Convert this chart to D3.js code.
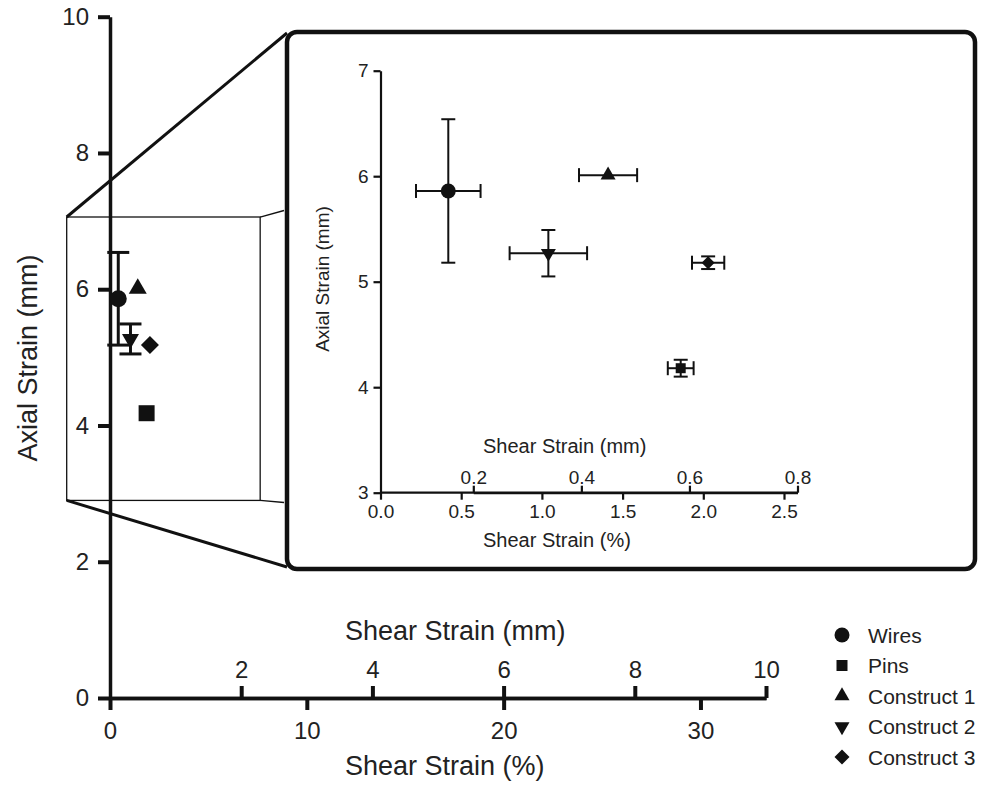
<!DOCTYPE html>
<html>
<head>
<meta charset="utf-8">
<script src="https://cdn.jsdelivr.net/npm/d3@7"></script>
<style>
  body { margin: 0; background: #fff; }
  svg { display: block; font-family: "Liberation Sans", Arial, sans-serif; }
  text { fill: #222; }
</style>
</head>
<body>
<svg width="987" height="787"></svg>
<script>
// data
const seriesNames  = ["Wires", "Pins", "Construct 1", "Construct 2", "Construct 3"]
const seriesShapes = ["circle", "square", "triangle", "triangleDown", "diamond"]
const shearPct     = [0.42, 1.86, 1.41, 1.04, 2.03]
const shearPctErr  = [0.20, 0.08, 0.18, 0.24, 0.10]
const axialMm      = [5.86, 4.18, 6.01, 5.27, 5.18]
const axialMmErr   = [0.68, 0.08, 0.02, 0.22, 0.06]

const mainAxialTicks = [0, 2, 4, 6, 8, 10]
const mainPctTicks   = [0, 10, 20, 30]
const mainMmTicks    = [2, 4, 6, 8, 10]
const insetAxialTicks = [3, 4, 5, 6, 7]
const insetPctTicks   = [0, 0.5, 1.0, 1.5, 2.0, 2.5]
const insetMmTicks    = [0.2, 0.4, 0.6, 0.8]

const points = seriesNames.map((name, i) => ({
	name: name, shape: seriesShapes[i],
	x: shearPct[i], xe: shearPctErr[i], y: axialMm[i], ye: axialMmErr[i]
}))

const svg = d3.select("svg")

// marker path by nominal width
function shapePath(kind, w) {
	if (kind == "circle") return d3.symbol(d3.symbolCircle, Math.PI * w * w / 4)()
	if (kind == "square") return d3.symbol(d3.symbolSquare, w * w)()
	if (kind == "diamond") return d3.symbol(d3.symbolSquare, w * w / 2)()
	return d3.symbol(d3.symbolTriangle, w * w * 0.433)()
}
function shapeRotate(kind) {
	if (kind == "triangleDown") return 180
	if (kind == "diamond") return 45
	return 0
}

// ---------- main plot ----------
const mx = d3.scaleLinear().domain([0, 33.33]).range([110, 766])
const mxMm = d3.scaleLinear().domain([0, 10]).range([110, 766])
const my = d3.scaleLinear().domain([0, 10]).range([698, 16.7])

// zoom box + projection lines (drawn under everything)
const box = { x0: -2.2, x1: 7.63, y0: 2.9, y1: 7.06 }
const deco = svg.append("g").attr("fill", "none").attr("stroke", "#111")
deco.append("rect")
	.attr("x", mx(box.x0)).attr("y", my(box.y1))
	.attr("width", mx(box.x1) - mx(box.x0)).attr("height", my(box.y0) - my(box.y1))
	.attr("stroke-width", 1.3)
deco.append("line").attr("x1", mx(box.x1)).attr("y1", my(box.y1)).attr("x2", 284).attr("y2", 210.5).attr("stroke-width", 1.3)
deco.append("line").attr("x1", mx(box.x1)).attr("y1", my(box.y0)).attr("x2", 284).attr("y2", 502.5).attr("stroke-width", 1.3)
deco.append("line").attr("x1", mx(box.x0)).attr("y1", my(box.y1)).attr("x2", 287).attr("y2", 33).attr("stroke-width", 3)
deco.append("line").attr("x1", mx(box.x0)).attr("y1", my(box.y0)).attr("x2", 287).attr("y2", 567).attr("stroke-width", 3)

function styleAxis(g, lineW, tickW, fontSize) {
	g.select(".domain").attr("stroke", "#111").attr("stroke-width", lineW)
	g.selectAll(".tick line").attr("stroke", "#111").attr("stroke-width", tickW)
	g.selectAll(".tick text").attr("font-size", fontSize).attr("font-family", null).attr("fill", "#222")
}

const gy = svg.append("g").attr("transform", `translate(${mx(0)},0)`)
	.call(d3.axisLeft(my).tickValues(mainAxialTicks).tickSize(12).tickSizeOuter(0).tickPadding(9).tickFormat(d3.format("d")))
styleAxis(gy, 3.5, 4, 24)

const gxPct = svg.append("g").attr("transform", `translate(0,${my(0)})`)
	.call(d3.axisBottom(mx).tickValues(mainPctTicks).tickSize(12).tickSizeOuter(0).tickPadding(12).tickFormat(d3.format("d")))
styleAxis(gxPct, 3.5, 4, 24)

const gxMm = svg.append("g").attr("transform", `translate(0,${my(0)})`)
	.call(d3.axisTop(mxMm).tickValues(mainMmTicks).tickSize(12).tickSizeOuter(0).tickPadding(8).tickFormat(d3.format("d")))
styleAxis(gxMm, 3.5, 4, 24)

svg.append("text").attr("x", 345).attr("y", 640).attr("font-size", 27).text("Shear Strain (mm)")
svg.append("text").attr("x", 345).attr("y", 775).attr("font-size", 27).text("Shear Strain (%)")
svg.append("text").attr("transform", "translate(37,358) rotate(-90)")
	.attr("text-anchor", "middle").attr("font-size", 27).text("Axial Strain (mm)")

function drawPoints(g, xs, ys, opts) {
	const eb = g.append("g").attr("stroke", "#111").attr("stroke-width", opts.errW).attr("fill", "none")
	points.forEach(p => {
		const cx = xs(p.x), cy = ys(p.y)
		const xl = xs(p.x - p.xe), xr = xs(p.x + p.xe)
		const yt = ys(p.y + p.ye), yb = ys(p.y - p.ye)
		const half = opts.size[p.shape] / 2
		if (xr - xl > half * 2 - 2) {
			eb.append("line").attr("x1", xl).attr("x2", xr).attr("y1", cy).attr("y2", cy)
			eb.append("line").attr("x1", xl).attr("x2", xl).attr("y1", cy - opts.xcap).attr("y2", cy + opts.xcap)
			eb.append("line").attr("x1", xr).attr("x2", xr).attr("y1", cy - opts.xcap).attr("y2", cy + opts.xcap)
		}
		if (yb - yt > Math.max(5, opts.minY)) {
			eb.append("line").attr("x1", cx).attr("x2", cx).attr("y1", yt).attr("y2", yb)
			eb.append("line").attr("x1", cx - opts.ycap).attr("x2", cx + opts.ycap).attr("y1", yt).attr("y2", yt)
			eb.append("line").attr("x1", cx - opts.ycap).attr("x2", cx + opts.ycap).attr("y1", yb).attr("y2", yb)
		}
	})
	g.selectAll("path.pt").data(points).join("path")
		.attr("class", "pt")
		.attr("d", d => shapePath(d.shape, opts.size[d.shape]))
		.attr("transform", d => `translate(${xs(d.x)},${ys(d.y)}) rotate(${shapeRotate(d.shape)})`)
		.attr("fill", "#111")
}

drawPoints(svg.append("g"), mx, my, {
	errW: 3, xcap: 6, ycap: 11, minY: 18,
	size: { circle: 17, square: 16, triangle: 18, triangleDown: 17, diamond: 18 }
})

// ---------- inset ----------
svg.append("rect")
	.attr("x", 287).attr("y", 32).attr("width", 688).attr("height", 537)
	.attr("rx", 10).attr("fill", "#fff").attr("stroke", "#111").attr("stroke-width", 4.5)

const ix = d3.scaleLinear().domain([0, 2.5]).range([380.5, 784])
const ixMm = d3.scaleLinear().domain([0.2, 0.8]).range([473.3, 797.5])
const iy = d3.scaleLinear().domain([3, 7]).range([492.7, 70.7])

const iyAxis = svg.append("g").attr("transform", `translate(${ix(0)},0)`)
	.call(d3.axisLeft(iy).tickValues(insetAxialTicks).tickSize(7).tickSizeOuter(0).tickPadding(5).tickFormat(d3.format("d")))
styleAxis(iyAxis, 2.2, 2.2, 19)

const ixPctAxis = svg.append("g").attr("transform", `translate(0,${iy(3)})`)
	.call(d3.axisBottom(ix).tickValues(insetPctTicks).tickSize(7).tickSizeOuter(0).tickPadding(5).tickFormat(d3.format(".1f")))
styleAxis(ixPctAxis, 2.2, 2.2, 19)
ixPctAxis.select(".domain").attr("d", `M${ix(0)},0H${ixMm(0.8)}`)

const ixMmAxis = svg.append("g").attr("transform", `translate(0,${iy(3)})`)
	.call(d3.axisTop(ixMm).tickValues(insetMmTicks).tickSize(7).tickSizeOuter(0).tickPadding(2).tickFormat(d3.format(".1f")))
styleAxis(ixMmAxis, 2.2, 2.2, 19)

svg.append("text").attr("x", 483).attr("y", 453).attr("font-size", 20).text("Shear Strain (mm)")
svg.append("text").attr("x", 483).attr("y", 547).attr("font-size", 20).text("Shear Strain (%)")
svg.append("text").attr("transform", "translate(329,279) rotate(-90)")
	.attr("text-anchor", "middle").attr("font-size", 19).text("Axial Strain (mm)")

drawPoints(svg.append("g"), ix, iy, {
	errW: 2, xcap: 7, ycap: 7, minY: 5,
	size: { circle: 15, square: 10, triangle: 15, triangleDown: 15, diamond: 13 }
})

// ---------- legend ----------
const legendSize = { circle: 15, square: 11, triangle: 15, triangleDown: 15, diamond: 15 }
const legend = svg.append("g").attr("transform", "translate(842,635)")
const rows = legend.selectAll("g").data(points).join("g")
	.attr("transform", (d, i) => `translate(0,${i * 30.5})`)
rows.append("path")
	.attr("d", d => shapePath(d.shape, legendSize[d.shape]))
	.attr("transform", d => `rotate(${shapeRotate(d.shape)})`)
	.attr("fill", "#111")
rows.append("text").attr("x", 26).attr("y", 7.5).attr("font-size", 21).text(d => d.name)
</script>
</body>
</html>
